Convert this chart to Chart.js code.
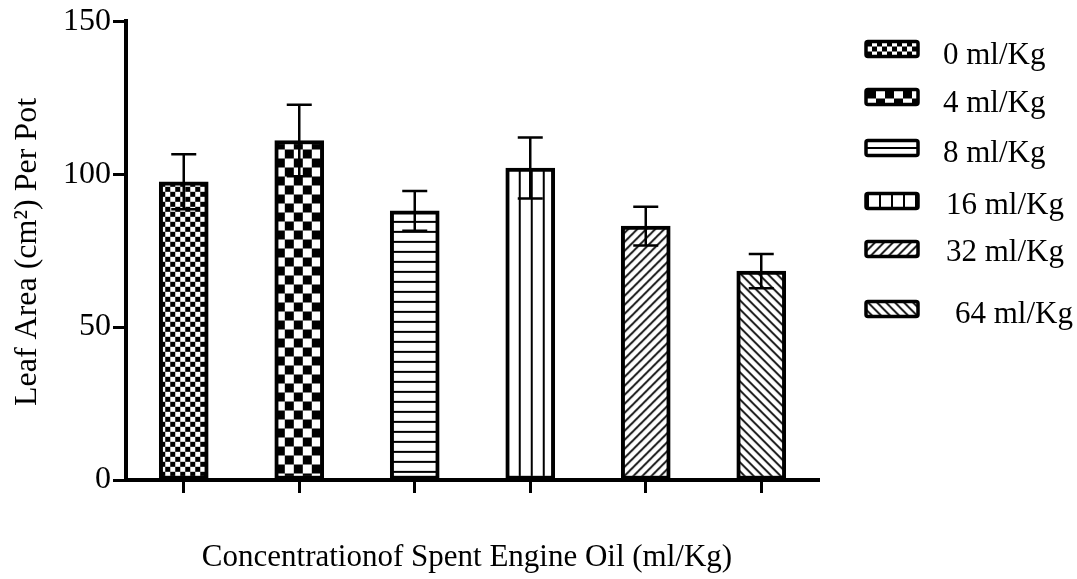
<!DOCTYPE html>
<html><head><meta charset="utf-8">
<script src="https://cdn.jsdelivr.net/npm/chart.js@4.4.1/dist/chart.umd.min.js"></script>
<style>html,body{margin:0;padding:0;background:#fff;}#wrap{width:1077px;height:579px;position:relative;}</style>
</head><body><div id="wrap"><canvas id="c" width="1077" height="579"></canvas></div>
<script>
// ---- data ----
const categories = ['0 ml/Kg', '4 ml/Kg', '8 ml/Kg', '16 ml/Kg', '32 ml/Kg', ' 64 ml/Kg'];
const leafArea = [97.5, 111, 88, 102, 83, 68.3];
const errorSize = [9, 11.7, 6.5, 10, 6.3, 5.6];
const yTickValues = [0, 50, 100, 150];
const xTitle = 'Concentrationof Spent Engine Oil (ml/Kg)';
const yTitle = 'Leaf Area (cm\u00B2) Per Pot';
const patternKinds = ['checkFine', 'checkCoarse', 'hlines', 'vlines', 'diagUp', 'diagDown'];

const FONT = '"Liberation Serif", "Times New Roman", serif';

function makePattern(kind) {
  const c = document.createElement('canvas');
  const g = c.getContext('2d');
  let w = 10, h = 10;
  if (kind === 'checkFine') { w = h = 10; }
  if (kind === 'checkCoarse') { w = h = 18; }
  if (kind === 'hlines') { w = 10; h = 10; }
  if (kind === 'vlines') { w = 12; h = 10; }
  if (kind === 'diagUp' || kind === 'diagDown') { w = h = 9; }
  c.width = w; c.height = h;
  g.fillStyle = '#fff'; g.fillRect(0, 0, w, h);
  g.fillStyle = '#000'; g.strokeStyle = '#000';
  if (kind === 'checkFine' || kind === 'checkCoarse') {
    const s = w / 2;
    g.fillRect(0, 0, s, s); g.fillRect(s, s, s, s);
  } else if (kind === 'hlines') {
    g.fillRect(0, 0, w, 2);
  } else if (kind === 'vlines') {
    g.fillRect(0, 0, 2, h);
  } else if (kind === 'diagUp') {
    g.lineWidth = 1.8;
    g.beginPath();
    g.moveTo(-1, h + 1); g.lineTo(w + 1, -1);
    g.moveTo(-2, 2); g.lineTo(2, -2);
    g.moveTo(w - 2, h + 2); g.lineTo(w + 2, h - 2);
    g.stroke();
  } else if (kind === 'diagDown') {
    g.lineWidth = 1.8;
    g.beginPath();
    g.moveTo(-1, -1); g.lineTo(w + 1, h + 1);
    g.moveTo(w - 2, -2); g.lineTo(w + 2, 2);
    g.moveTo(-2, h - 2); g.lineTo(2, h + 2);
    g.stroke();
  }
  return document.getElementById('c').getContext('2d').createPattern(c, 'repeat');
}

const barPatterns = patternKinds.map(makePattern);
const legendPatterns = patternKinds.map(makePattern);

const alignPatterns = {
  id: 'alignPatterns',
  beforeDatasetsDraw(chart) {
    const meta = chart.getDatasetMeta(0);
    meta.data.forEach((el, i) => {
      const left = el.x - el.width / 2 + 1;
      barPatterns[i].setTransform(new DOMMatrix([1, 0, 0, 1, left, el.y]));
    });
  }
};

const errorBars = {
  id: 'errorBars',
  afterDatasetsDraw(chart) {
    const ctx = chart.ctx;
    const meta = chart.getDatasetMeta(0);
    const ys = chart.scales.y;
    ctx.save();
    ctx.strokeStyle = '#000';
    ctx.lineWidth = 2.5;
    meta.data.forEach((el, i) => {
      const v = leafArea[i], e = errorSize[i];
      const yt = ys.getPixelForValue(v + e), yb = ys.getPixelForValue(v - e);
      const x = el.x, cw = 12.5;
      ctx.beginPath();
      ctx.moveTo(x, yt); ctx.lineTo(x, yb);
      ctx.moveTo(x - cw, yt); ctx.lineTo(x + cw, yt);
      ctx.moveTo(x - cw, yb); ctx.lineTo(x + cw, yb);
      ctx.stroke();
    });
    ctx.restore();
  }
};

const legendTextY = [56, 104, 154, 206, 253, 315];
const legendBoxY = [49, 97, 148, 201, 249, 309];
const legendTextX = [943, 943, 943, 946, 946, 955];

function roundRect(ctx, x, y, w, h, r) {
  ctx.beginPath();
  ctx.moveTo(x + r, y);
  ctx.lineTo(x + w - r, y); ctx.arcTo(x + w, y, x + w, y + r, r);
  ctx.lineTo(x + w, y + h - r); ctx.arcTo(x + w, y + h, x + w - r, y + h, r);
  ctx.lineTo(x + r, y + h); ctx.arcTo(x, y + h, x, y + h - r, r);
  ctx.lineTo(x, y + r); ctx.arcTo(x, y, x + r, y, r);
  ctx.closePath();
}

const customText = {
  id: 'customText',
  afterDraw(chart) {
    const ctx = chart.ctx;
    ctx.save();
    ctx.fillStyle = '#000';
    // axis titles
    ctx.font = '31px ' + FONT;
    ctx.textAlign = 'center';
    ctx.textBaseline = 'middle';
    ctx.fillText(xTitle, 467, 558);
    ctx.save();
    ctx.font = '32px ' + FONT;
    ctx.translate(28, 252);
    ctx.rotate(-Math.PI / 2);
    ctx.fillText(yTitle, 0, 0);
    ctx.restore();
    // legend
    categories.forEach((lab, i) => {
      const bx = 866, bw = 52, bh = 15, by = legendBoxY[i] - bh / 2;
      let ty = by;
      if (patternKinds[i] === 'hlines') ty = by + bh / 2 - 1;
      legendPatterns[i].setTransform(new DOMMatrix([1, 0, 0, 1, bx + 1, ty]));
      roundRect(ctx, bx, by, bw, bh, 2);
      ctx.fillStyle = legendPatterns[i];
      ctx.fill();
      ctx.strokeStyle = '#000';
      ctx.lineWidth = 3.5;
      ctx.stroke();
      ctx.fillStyle = '#000';
      ctx.textAlign = 'left';
      ctx.textBaseline = 'middle';
      ctx.font = '31px ' + FONT;
      ctx.fillText(lab.trim(), legendTextX[i], legendTextY[i]);
    });
    ctx.restore();
  }
};

new Chart(document.getElementById('c'), {
  type: 'bar',
  data: {
    labels: categories,
    datasets: [{
      data: leafArea,
      backgroundColor: barPatterns,
      borderColor: '#000',
      borderWidth: 4,
      borderSkipped: false,
      barThickness: 49
    }]
  },
  options: {
    responsive: false,
    animation: false,
    devicePixelRatio: 1,
    layout: { padding: { left: 0, top: 21, right: 258, bottom: 0 } },
    plugins: { legend: { display: false }, tooltip: { enabled: false } },
    scales: {
      x: {
        type: 'category',
        offset: true,
        grid: { offset: false, drawOnChartArea: false, drawTicks: true, tickLength: 13, tickWidth: 3, tickColor: '#000' },
        border: { display: true, color: '#000', width: 4 },
        ticks: { display: false },
        afterFit(s) { s.height = 99; }
      },
      y: {
        min: 0, max: 150,
        afterBuildTicks(s) { s.ticks = yTickValues.map(v => ({ value: v })); },
        grid: { drawOnChartArea: false, drawTicks: true, tickLength: 13, tickWidth: 3, tickColor: '#000' },
        border: { display: true, color: '#000', width: 4 },
        ticks: { color: '#000', font: { family: FONT, size: 32 }, padding: 2 },
        afterFit(s) { s.width = 126; }
      }
    }
  },
  plugins: [alignPatterns, errorBars, customText]
});
</script>
</body></html>
